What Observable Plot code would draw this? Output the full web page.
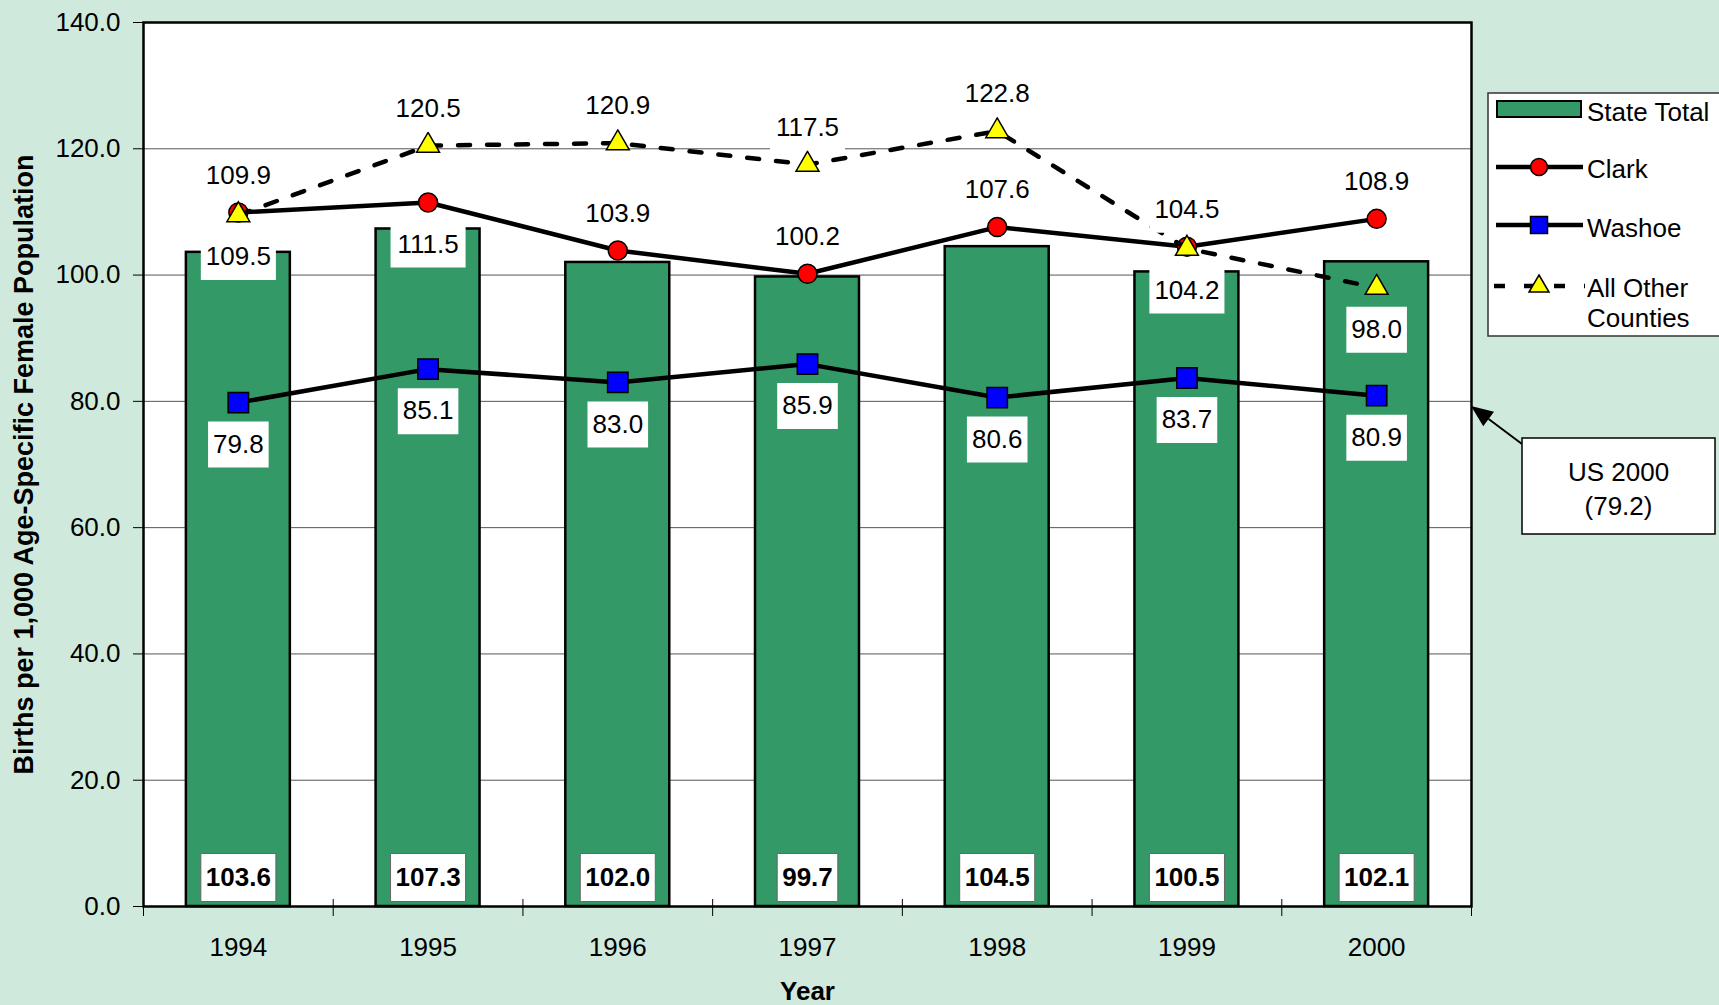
<!DOCTYPE html>
<html><head><meta charset="utf-8">
<script src="https://cdn.jsdelivr.net/npm/d3@7"></script>
<script src="https://cdn.jsdelivr.net/npm/@observablehq/plot@0.6"></script>
<style>
html,body{margin:0;padding:0;background:#cfeadc;}
#chart{position:relative;width:1719px;height:1005px;}
</style></head><body><div id="chart"></div>
<script>
// ---- data ----
const years = [1994, 1995, 1996, 1997, 1998, 1999, 2000];
const stateTotal = [103.6, 107.3, 102.0, 99.7, 104.5, 100.5, 102.1];
const clark = [109.9, 111.5, 103.9, 100.2, 107.6, 104.5, 108.9];
const washoe = [79.8, 85.1, 83.0, 85.9, 80.6, 83.7, 80.9];
const otherCounties = [109.5, 120.5, 120.9, 117.5, 122.8, 104.2, 98.0];
const usRate = 79.2;
const usLabel = ["US 2000", "(79.2)"];
const yTicks = [0, 20, 40, 60, 80, 100, 120, 140];
const seriesNames = ["State Total", "Clark", "Washoe", "All Other", "Counties"];
const yTitle = "Births per 1,000 Age-Specific Female Population";
const xTitle = "Year";

// ---- chart ----
const font = 'Arial, "Liberation Sans", sans-serif';
const green = "#339966";
const rows = years.map((year, i) => ({year, state: stateTotal[i], clark: clark[i], washoe: washoe[i], other: otherCounties[i]}));
const boundaries = [...years.map(y => y - 0.5), years[years.length - 1] + 0.5];
const clarkBelow = new Set([1995]);
const otherBelow = new Set([1994, 1999, 2000]);

const fmt = v => v.toFixed(1);
function textW(s) { let w = 0; for (const c of s) w += c === "." ? 0.278 : 0.556; return w * 26; }
function boxSymbol(w, h) {
  return {draw(ctx) { ctx.moveTo(-w/2, -h/2); ctx.lineTo(w/2, -h/2); ctx.lineTo(w/2, h/2); ctx.lineTo(-w/2, h/2); ctx.closePath(); }};
}
function labelMarks(data, key, dy, {bold = false, stroke = "none", h = 46, y = key} = {}) {
  const marks = [];
  for (const [, g] of d3.group(data, d => fmt(d[key]).length)) {
    const w = textW(fmt(g[0][key])) + 10;
    marks.push(Plot.dot(g, {x: "year", y, dy, symbol: boxSymbol(w, h), r: 10, fill: "white", stroke, strokeWidth: 1}));
  }
  marks.push(Plot.text(data, {x: "year", y, dy, text: d => fmt(d[key]), fontSize: 26, fontWeight: bold ? "bold" : "normal", fill: "black"}));
  return marks;
}

const chart = Plot.plot({
  width: 1719, height: 1005,
  marginLeft: 143, marginRight: 248, marginTop: 22, marginBottom: 99,
  style: {fontFamily: font, fontSize: "26px", background: "transparent", overflow: "visible", color: "black"},
  x: {type: "linear", domain: [1993.5, 2000.5]},
  y: {domain: [0, 140]},
  marks: [
    Plot.frame({fill: "white"}),
    Plot.gridY({ticks: yTicks.slice(1, -1), stroke: "#555", strokeOpacity: 1, strokeWidth: 1}),
    Plot.axisY({ticks: yTicks, tickFormat: d => d.toFixed(1), tickSize: 10, tickPadding: 13, fontSize: 26, label: null}),
    Plot.axisX({ticks: years, tickSize: 0, tickPadding: 31, tickFormat: d => String(d), fontSize: 26, label: null}),
    Plot.axisX({ticks: boundaries, tickSize: 10, tickFormat: () => "", label: null}),
    Plot.ruleX(boundaries, {y1: 0, y2: 1.1, stroke: "black"}),
    Plot.rectY(rows, {x1: d => d.year - 0.274, x2: d => d.year + 0.274, y: "state", fill: green, stroke: "black", strokeWidth: 2.5}),
    Plot.line(rows, {x: "year", y: "clark", stroke: "black", strokeWidth: 4.5}),
    Plot.dot(rows, {x: "year", y: "clark", symbol: "circle", r: 9.5, fill: "#ff0000", stroke: "black", strokeWidth: 1.5}),
    Plot.line(rows, {x: "year", y: "washoe", stroke: "black", strokeWidth: 4.5}),
    Plot.dot(rows, {x: "year", y: "washoe", symbol: "square", r: 11.5, fill: "#0000ff", stroke: "black", strokeWidth: 1.5}),
    Plot.line(rows, {x: "year", y: "other", stroke: "black", strokeWidth: 4.5, strokeDasharray: "12,17"}),
    Plot.dot(rows, {x: "year", y: "other", symbol: "triangle", r: 8.5, fill: "#ffff00", stroke: "black", strokeWidth: 1.5}),
    Plot.frame({stroke: "black", strokeWidth: 2.5}),
    ...labelMarks(rows, "state", -29, {bold: true, stroke: "#666", h: 48, y: () => 0}),
    ...labelMarks(rows.filter(d => !clarkBelow.has(d.year)), "clark", -37),
    ...labelMarks(rows.filter(d => clarkBelow.has(d.year)), "clark", 42),
    ...labelMarks(rows, "washoe", 42),
    ...labelMarks(rows.filter(d => !otherBelow.has(d.year)), "other", -37),
    ...labelMarks(rows.filter(d => otherBelow.has(d.year)), "other", 42),
    Plot.text([yTitle], {frameAnchor: "left", textAnchor: "middle", rotate: -90, dx: -119, fontWeight: "bold", fontSize: 27}),
    Plot.text([xTitle], {frameAnchor: "bottom", textAnchor: "middle", dy: 93, fontWeight: "bold", fontSize: 26})
  ]
});
document.getElementById("chart").appendChild(chart);

// ---- legend (right, outside plot frame) ----
const svg = d3.select(chart);
const lg = svg.append("g").attr("font-family", font).attr("font-size", 26).attr("text-anchor", "start");
lg.append("rect").attr("x", 1488).attr("y", 93).attr("width", 250).attr("height", 243)
  .attr("fill", "white").attr("stroke", "#333").attr("stroke-width", 1.5);
const lx = 1587;
// State Total
lg.append("rect").attr("x", 1497).attr("y", 101).attr("width", 84).attr("height", 16)
  .attr("fill", green).attr("stroke", "black").attr("stroke-width", 2);
lg.append("text").attr("x", lx).attr("y", 112).attr("dy", "0.35em").text(seriesNames[0]);
// Clark
lg.append("line").attr("x1", 1496).attr("x2", 1583).attr("y1", 167).attr("y2", 167).attr("stroke", "black").attr("stroke-width", 4.5);
lg.append("circle").attr("cx", 1539).attr("cy", 167).attr("r", 8.5).attr("fill", "#ff0000").attr("stroke", "black").attr("stroke-width", 1.5);
lg.append("text").attr("x", lx).attr("y", 169).attr("dy", "0.35em").text(seriesNames[1]);
// Washoe
lg.append("line").attr("x1", 1496).attr("x2", 1583).attr("y1", 225).attr("y2", 225).attr("stroke", "black").attr("stroke-width", 4.5);
lg.append("rect").attr("x", 1530.5).attr("y", 216.5).attr("width", 17).attr("height", 17).attr("fill", "#0000ff").attr("stroke", "black").attr("stroke-width", 1.5);
lg.append("text").attr("x", lx).attr("y", 228).attr("dy", "0.35em").text(seriesNames[2]);
// All other counties
lg.append("line").attr("x1", 1494).attr("x2", 1585).attr("y1", 286).attr("y2", 286).attr("stroke", "black").attr("stroke-width", 4.5).attr("stroke-dasharray", "11,19");
lg.append("path").attr("d", "M1539,275 L1549,292 L1529,292 Z").attr("fill", "#ffff00").attr("stroke", "black").attr("stroke-width", 1.5);
lg.append("text").attr("x", lx).attr("y", 288).attr("dy", "0.35em").text(seriesNames[3]);
lg.append("text").attr("x", lx).attr("y", 318).attr("dy", "0.35em").text(seriesNames[4]);

// ---- US 2000 annotation ----
const ys = chart.scale("y"), xs = chart.scale("x");
const tipX = xs.range[1], tipY = ys.apply(usRate);
const bx = 1522, by = 438, bw = 193, bh = 96;
const an = svg.append("g").attr("font-family", font).attr("font-size", 26);
const sx = bx, sy = by + 6;
const ang = Math.atan2(tipY - sy, tipX - sx);
const hl = 22, hw = 9;
const baseX = tipX - hl * Math.cos(ang), baseY = tipY - hl * Math.sin(ang);
an.append("line").attr("x1", sx).attr("y1", sy).attr("x2", baseX).attr("y2", baseY).attr("stroke", "black").attr("stroke-width", 2);
an.append("path").attr("d", `M${tipX},${tipY} L${baseX + hw*Math.sin(ang)},${baseY - hw*Math.cos(ang)} L${baseX - hw*Math.sin(ang)},${baseY + hw*Math.cos(ang)} Z`).attr("fill", "black");
an.append("rect").attr("x", bx).attr("y", by).attr("width", bw).attr("height", bh).attr("fill", "white").attr("stroke", "black").attr("stroke-width", 1.5);
an.append("text").attr("x", bx + bw/2).attr("y", 472).attr("dy", "0.35em").attr("text-anchor", "middle").text(usLabel[0]);
an.append("text").attr("x", bx + bw/2).attr("y", 506).attr("dy", "0.35em").attr("text-anchor", "middle").text(usLabel[1]);
</script></body></html>
